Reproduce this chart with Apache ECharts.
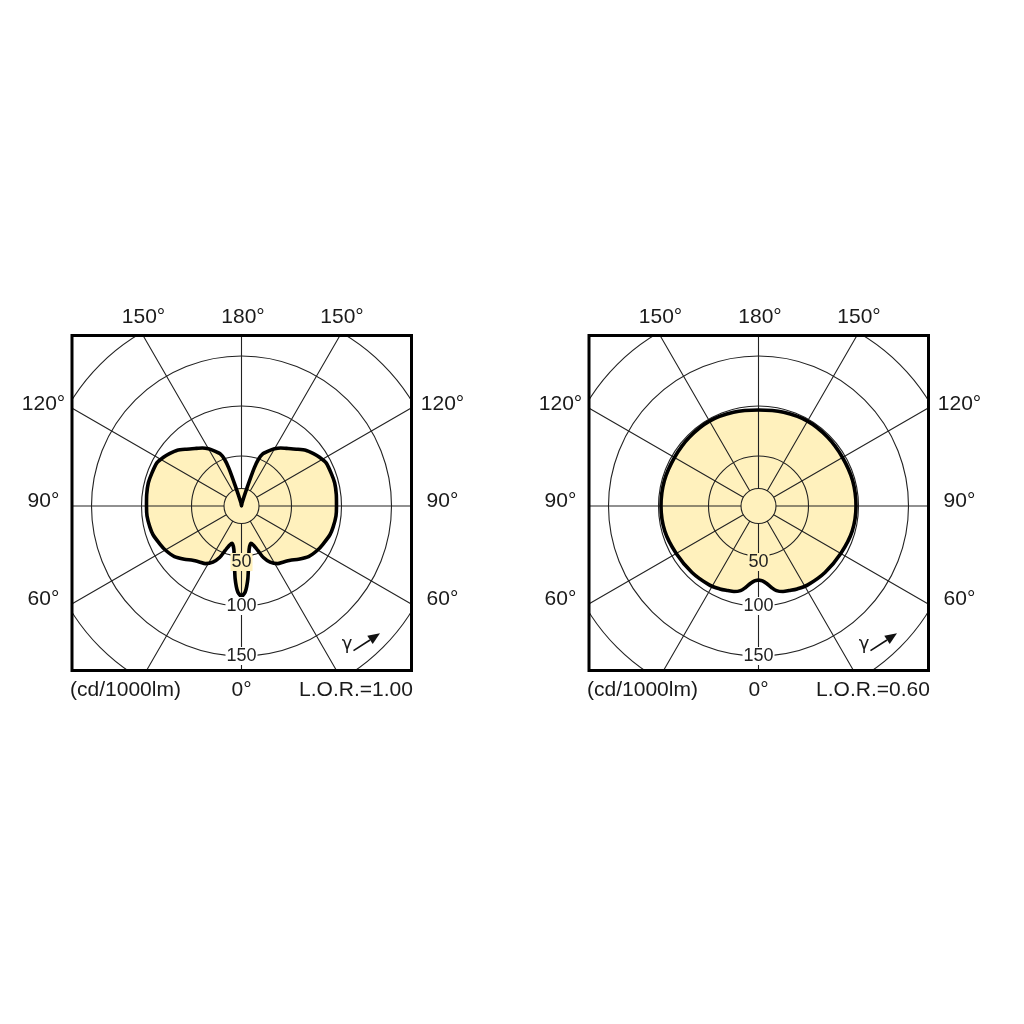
<!DOCTYPE html>
<html><head><meta charset="utf-8">
<script src="https://cdn.jsdelivr.net/npm/echarts@6/dist/echarts.min.js"></script>
<style>html,body{margin:0;padding:0;background:#fff}#c{width:1024px;height:1024px}</style>
</head><body><div id="c"></div>
<script>
// ---- Data ----
// Left diagram, L.O.R.=1.00 : gamma angle (deg) and intensity (cd/1000lm); the plot is symmetric
const leftGamma = [0, 2.5, 5, 7.5, 10, 14, 17, 20, 23, 27, 32, 37, 42, 47, 53, 60, 65, 72, 77, 84, 90, 97, 104, 110, 117, 122, 126, 131, 136, 141, 146, 150, 154, 158, 160, 161.5, 163, 170, 180];
const leftI     = [91, 86, 73, 55, 44, 38.5, 41, 47, 56, 63, 68, 70, 73, 78, 84, 88, 90, 93, 94, 95, 95, 95.5, 96, 95.5, 95, 92, 89, 85, 79, 74, 70, 66, 61, 56, 50, 40, 20, 3, 0];
// Right diagram, L.O.R.=0.60
const rightGamma = [0, 3, 6, 9, 12, 16, 20, 25, 32, 45, 60, 75, 90, 105, 120, 135, 150, 165, 180];
const rightI     = [74, 75, 78, 82.5, 86.5, 89, 90, 91.5, 93, 94, 95, 97, 97.5, 97.5, 97, 97.5, 98, 97, 96];
// Axis / text content
const ringValues = [50, 100, 150];
const topLabels = ['150°', '180°', '150°'];
const sideLabels = ['120°', '90°', '60°'];
const unitLabel = '(cd/1000lm)';
const nadirLabel = '0°';
const lorLabels = ['L.O.R.=1.00', 'L.O.R.=0.60'];

// ---- Styling / layout ----
const FILL = '#FFF1BD';
const GRID = '#222';
const centers = [[241.5, 506], [758.5, 506]];
const R = 250;
const FONT = '21px "Liberation Sans", Arial, sans-serif';

function fullCurve(g, v) {
  const pts = [];
  for (let i = 0; i < g.length; i++) pts.push([v[i], g[i]]);
  for (let i = g.length - 2; i >= 0; i--) pts.push([v[i], 360 - g[i]]);
  return pts;
}
const curves = [fullCurve(leftGamma, leftI), fullCurve(rightGamma, rightI)];
const smooths = [0.2, 0.3];

const polar = [], angleAxis = [], radiusAxis = [], series = [];
centers.forEach((c, k) => {
  // grid polar
  polar.push({center: c, radius: R});
  angleAxis.push({polarIndex: 2 * k, type: 'value', min: 0, max: 360, interval: 30, startAngle: 270, clockwise: true, z: 3,
    axisLine: {show: false}, axisTick: {show: false}, axisLabel: {show: false},
    splitLine: {show: true, lineStyle: {color: GRID, width: 1.1}}});
  radiusAxis.push({polarIndex: 2 * k, type: 'value', min: 0, max: 250, interval: 50, z: 3,
    axisLine: {show: false}, axisTick: {show: false}, axisLabel: {show: false},
    splitLine: {show: true, lineStyle: {color: GRID, width: 1.1}}});
  // label polar
  polar.push({center: c, radius: R});
  angleAxis.push({polarIndex: 2 * k + 1, type: 'value', min: 0, max: 360, interval: 30, startAngle: 270, clockwise: true, z: 10,
    axisLine: {show: false}, axisTick: {show: false}, axisLabel: {show: false}, splitLine: {show: false}});
  radiusAxis.push({polarIndex: 2 * k + 1, type: 'value', min: 0, max: 250, interval: 50, z: 10,
    axisLine: {show: false}, axisTick: {show: false}, splitLine: {show: false},
    axisLabel: {show: true, margin: 0, align: 'center', verticalAlign: 'middle', showMinLabel: false, showMaxLabel: false,
      formatter: v => v === 50 ? '{g| }\n{c|50}' : (ringValues.indexOf(v) >= 0 ? '{w|' + v + '}' : ''),
      rich: {
        g: {fontSize: 10, lineHeight: 12},
        c: {fontSize: 18, lineHeight: 18, color: '#222', backgroundColor: FILL, padding: [0, 1],
            fontFamily: '"Liberation Sans", Arial, sans-serif'},
        w: {fontSize: 18, lineHeight: 18, color: '#222', backgroundColor: '#fff', padding: [0, 1],
            fontFamily: '"Liberation Sans", Arial, sans-serif'}
      }}});
  // fill
  series.push({type: 'line', coordinateSystem: 'polar', polarIndex: 2 * k, data: curves[k], symbol: 'none', silent: true,
    smooth: smooths[k], z: 1, lineStyle: {width: 0, opacity: 0}, areaStyle: {color: FILL, opacity: 1}});
  // center disk
  series.push({type: 'pie', center: c, radius: [0, 17.5], silent: true, z: 4, animation: false,
    label: {show: false}, labelLine: {show: false}, data: [{value: 1}],
    itemStyle: {color: FILL, borderColor: GRID, borderWidth: 1.1}, emphasis: {disabled: true}});
  // outline
  series.push({type: 'line', coordinateSystem: 'polar', polarIndex: 2 * k, data: curves[k], symbol: 'none', silent: true,
    smooth: smooths[k], z: 6, lineStyle: {color: '#000', width: 3.6, join: 'round'}});
});

// ---- Graphic: masks outside the frames, frames, texts ----
const graphic = [];
const masks = [[0, 0, 1024, 335], [0, 671, 1024, 353], [0, 335, 72, 336], [411, 335, 178, 336], [928, 335, 96, 336]];
masks.forEach(m => graphic.push({type: 'rect', shape: {x: m[0], y: m[1], width: m[2], height: m[3]}, style: {fill: '#fff'}, z: 100, silent: true}));
centers.forEach((c, k) => {
  const cx = c[0], cy = c[1];
  graphic.push({type: 'rect', shape: {x: cx - 169.5, y: 335.5, width: 339.5, height: 335}, style: {fill: null, stroke: '#000', lineWidth: 3}, z: 101, silent: true});
  const txt = (t, x, y, font) => graphic.push({type: 'text', x: x, y: y, z: 102, silent: true,
    style: {text: t, fill: '#1a1a1a', font: font || FONT, align: 'center', verticalAlign: 'middle'}});
  txt(topLabels[0], cx - 98, 317); txt(topLabels[1], cx + 1.5, 317); txt(topLabels[2], cx + 100.5, 317);
  const sy = [404, 501, 599];
  sideLabels.forEach((s, i) => { txt(s, cx - 198, sy[i]); txt(s, cx + 201, sy[i]); });
  txt(unitLabel, cx - 116, 690); txt(nadirLabel, cx, 690); txt(lorLabels[k], cx + 114.5, 690);
  // gamma arrow
  txt('γ', cx + 105.5, 644, '18px "DejaVu Sans", sans-serif');
  graphic.push({type: 'line', shape: {x1: cx + 112, y1: 650.7, x2: cx + 128.5, y2: 640}, style: {stroke: '#111', lineWidth: 1.6}, z: 102, silent: true});
  graphic.push({type: 'polygon', shape: {points: [[cx + 138.5, 633.3], [cx + 131.2, 644.1], [cx + 125.8, 635.7]]}, style: {fill: '#111'}, z: 102, silent: true});
});

const chart = echarts.init(document.getElementById('c'), null, {renderer: 'canvas'});
chart.setOption({animation: false, backgroundColor: '#fff', polar, angleAxis, radiusAxis, series, graphic});
</script></body></html>
